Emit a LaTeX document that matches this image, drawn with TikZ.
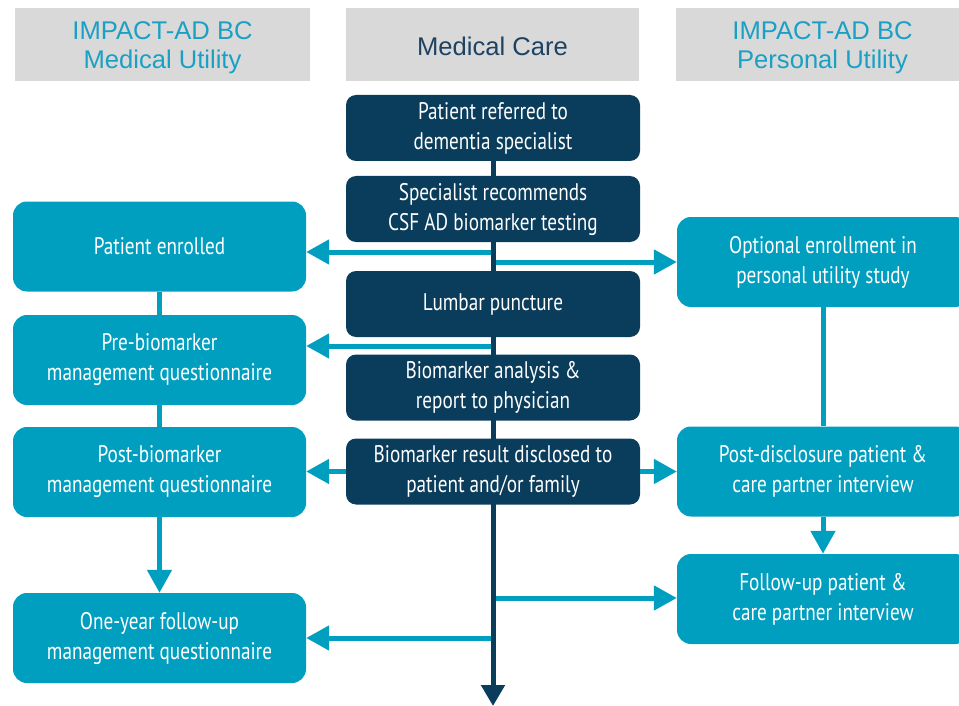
\documentclass[tikz,border=0pt]{standalone}
\usepackage{fontspec}
\setmainfont{Liberation Sans}
\newfontfamily\boxfont{PT Sans}[FakeStretch=0.8]
\usetikzlibrary{arrows.meta}
\definecolor{tealbox}{HTML}{009FC0}
\definecolor{navybox}{HTML}{0A3D5C}
\definecolor{hdrgray}{HTML}{D9D9D9}
\definecolor{hdrteal}{HTML}{1AA0C4}
\definecolor{hdrnavy}{HTML}{1E4262}
\tikzset{
  hdrbox/.style={fill=hdrgray, draw=none, minimum height=73pt, inner sep=0pt},
  hdrtext/.style={inner sep=0pt, align=center, font=\fontsize{25.6}{29}\selectfont},
  navyb/.style={fill=navybox, draw=none, rounded corners=10pt, minimum width=294pt,
     minimum height=66pt, inner sep=0pt, align=center, text=white,
     font=\boxfont\fontsize{24}{30}\selectfont},
  tealb/.style={fill=tealbox, draw=none, rounded corners=14pt, minimum width=293pt,
     minimum height=90pt, inner sep=0pt, align=center, text=white,
     font=\boxfont\fontsize{24}{30}\selectfont},
  tline/.style={draw=tealbox, line width=5pt},
  tarrow/.style={tline, -{Triangle[length=23pt,width=24pt]}},
  nline/.style={draw=navybox, line width=5pt, -{Triangle[length=21pt,width=23pt]}}
}
\begin{document}
\begin{tikzpicture}[x=1pt,y=-1pt]
\useasboundingbox (0,0) rectangle (959,706);
\clip (0,0) rectangle (959,706);
% headers
\node[hdrbox, minimum width=295pt] (h1) at (162.5,44.5) {};
\node[hdrbox, minimum width=293pt] (h2) at (492.5,44.5) {};
\node[hdrbox, minimum width=293pt] (h3) at (822.5,44.5) {};
\node[hdrtext, text=hdrteal] (h1t) at (162.5,48) {IMPACT-AD BC\\Medical Utility};
\node[hdrtext, text=hdrnavy] (h2t) at (492.5,46) {Medical Care};
\node[hdrtext, text=hdrteal] (h3t) at (822.5,48) {IMPACT-AD BC\\Personal Utility};
% left boxes
\node[tealb] (L1) at (159.5,246.5) {Patient enrolled};
\node[tealb] (L2) at (159.5,360) {Pre-biomarker\\management questionnaire};
\node[tealb] (L3) at (159.5,472) {Post-biomarker\\management questionnaire};
\node[tealb] (L4) at (159.5,638) {One-year follow-up\\management questionnaire};
% right boxes
\node[tealb, minimum width=292pt] (R1) at (823,262) {Optional enrollment in\\personal utility study};
\node[tealb, minimum width=292pt] (R2) at (823,471.5) {Post-disclosure patient \&\\care partner interview};
\node[tealb, minimum width=292pt] (R3) at (823,599) {Follow-up patient \&\\care partner interview};
% side connectors
\draw[tline] (L1.south) -- (L2.north);
\draw[tline] (L2.south) -- (L3.north);
\draw[tarrow] (L3.south) -- (L4.north);
\draw[tline] (R1.south) -- (R2.north);
\draw[tarrow] (R2.south) -- (R3.north);
% branch points on the central line
\coordinate (c1) at (493,252);
\coordinate (c2) at (493,262);
\coordinate (c3) at (493,346);
\coordinate (c4) at (493,598);
\coordinate (c5) at (493,638);
\coordinate (top) at (493,128);
\coordinate (bottom) at (493,706);
\draw[tarrow] (c1) -- (c1 -| L1.east);
\draw[tarrow] (c2) -- (c2 -| R1.west);
\draw[tarrow] (c3) -- (c3 -| L2.east);
\draw[tarrow] (c4) -- (c4 -| R3.west);
\draw[tarrow] (c5) -- (c5 -| L4.east);
% central line
\draw[nline] (top) -- (bottom);
% medical care boxes
\node[navyb] (M1) at (493,128) {Patient referred to\\dementia specialist};
\node[navyb] (M2) at (493,209) {Specialist recommends\\CSF AD biomarker testing};
\node[navyb] (M3) at (493,304) {Lumbar puncture};
\node[navyb] (M4) at (493,387.5) {Biomarker analysis \&\\report to physician};
\node[navyb] (M5) at (493,471.5) {Biomarker result disclosed to\\patient and/or family};
\draw[tarrow] (M5.west) -- (M5.west -| L3.east);
\draw[tarrow] (M5.east) -- (M5.east -| R2.west);
\end{tikzpicture}
\end{document}
